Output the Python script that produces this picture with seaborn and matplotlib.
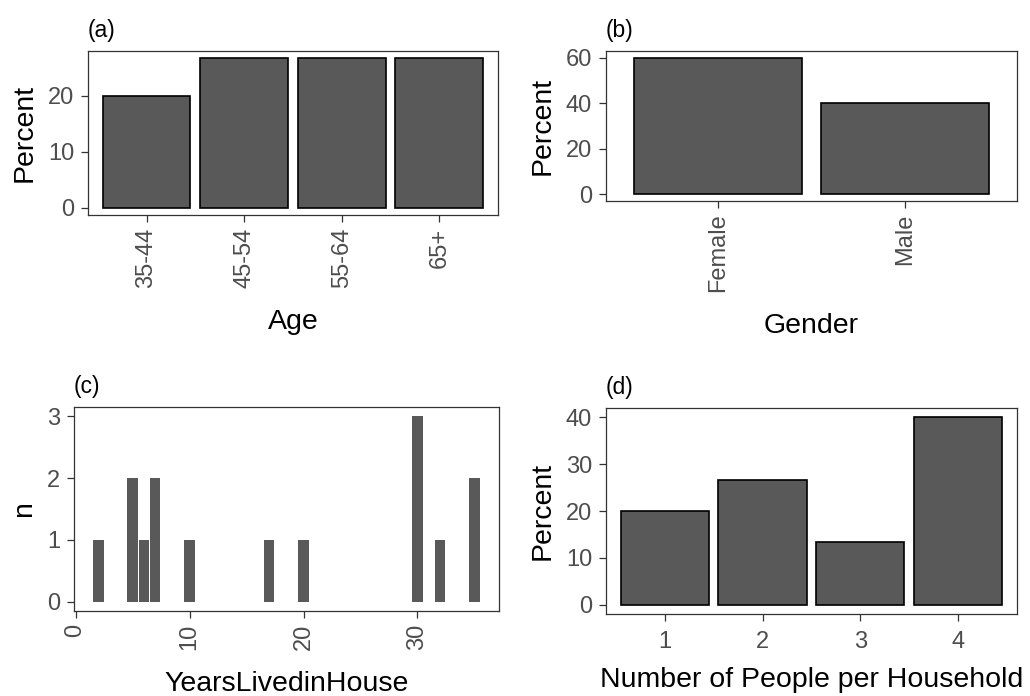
import matplotlib
matplotlib.use("Agg")
import matplotlib.pyplot as plt
import seaborn as sns

# values
age_groups = ["35-44", "45-54", "55-64", "65+"]
age_pct = [20.0, 26.7, 26.7, 26.7]

genders = ["Female", "Male"]
gender_pct = [60.0, 40.0]

years_lived = [2, 5, 6, 7, 10, 17, 20, 30, 32, 35]
years_n = [1, 2, 1, 2, 1, 1, 1, 3, 1, 2]

household_size = ["1", "2", "3", "4"]
household_pct = [20.0, 26.7, 13.3, 40.0]

sns.set_style("white")
plt.rcParams["font.family"] = ["Liberation Sans", "DejaVu Sans"]

BAR = "#595959"
FRAME = "#333333"
TICKTXT = "#4D4D4D"


def style_axes(ax, title, xlabel, ylabel, rotate=False):
    for s in ax.spines.values():
        s.set_visible(True)
        s.set_color(FRAME)
        s.set_linewidth(0.9)
    ax.tick_params(axis="both", direction="out", length=5, width=0.9,
                   color=FRAME, labelcolor=TICKTXT, labelsize=17, pad=5)
    ax.tick_params(axis="y", left=True)
    ax.tick_params(axis="x", bottom=True, pad=4 if rotate else 7)
    if rotate:
        for lab in ax.get_xticklabels():
            lab.set_rotation(90)
            lab.set_va("top")
            lab.set_ha("center")
    ax.set_xlabel(xlabel, fontsize=20.5, color="black",
                  labelpad=15 if rotate else 10)
    ax.set_ylabel(ylabel, fontsize=20.5, color="black", labelpad=7)
    ax.set_title(title, loc="left", fontsize=16.5, color="black", pad=10)


fig = plt.figure(figsize=(10.3, 6.96), dpi=100)

# (a) Age
ax_a = fig.add_axes([0.0854, 0.691, 0.398, 0.2356])
sns.barplot(x=age_groups, y=age_pct, ax=ax_a, color=BAR, saturation=1,
            width=0.9, edgecolor="black", linewidth=1.2)
ax_a.set_xlim(-0.6, len(age_groups) - 0.4)
ax_a.set_ylim(-1.33, 28.0)
ax_a.set_yticks([0, 10, 20])
style_axes(ax_a, "(a)", "Age", "Percent", rotate=True)

# (b) Gender
ax_b = fig.add_axes([0.5883, 0.7112, 0.399, 0.2155])
sns.barplot(x=genders, y=gender_pct, ax=ax_b, color=BAR, saturation=1,
            width=0.9, edgecolor="black", linewidth=1.2)
ax_b.set_xlim(-0.6, len(genders) - 0.4)
ax_b.set_ylim(-3.0, 63.0)
ax_b.set_yticks([0, 20, 40, 60])
style_axes(ax_b, "(b)", "Gender", "Percent", rotate=True)

# (c) Years lived in house
ax_c = fig.add_axes([0.0718, 0.1221, 0.4126, 0.2931])
sns.barplot(x=years_lived, y=years_n, ax=ax_c, color=BAR, saturation=1,
            width=0.9, native_scale=True, linewidth=0)
ax_c.set_xlim(-0.145, 37.15)
ax_c.set_ylim(-0.15, 3.15)
ax_c.set_xticks([0, 10, 20, 30])
ax_c.set_xticklabels(["0", "10", "20", "30"])
ax_c.set_yticks([0, 1, 2, 3])
style_axes(ax_c, "(c)", "YearsLivedinHouse", "n", rotate=True)

# (d) household size
ax_d = fig.add_axes([0.5883, 0.1178, 0.399, 0.296])
sns.barplot(x=household_size, y=household_pct, ax=ax_d, color=BAR, saturation=1,
            width=0.9, edgecolor="black", linewidth=1.2)
ax_d.set_xlim(-0.6, len(household_size) - 0.4)
ax_d.set_ylim(-2.0, 42.0)
ax_d.set_yticks([0, 10, 20, 30, 40])
style_axes(ax_d, "(d)", "Number of People per Household", "Percent")

fig.savefig("out.png", dpi=100, facecolor="white")
